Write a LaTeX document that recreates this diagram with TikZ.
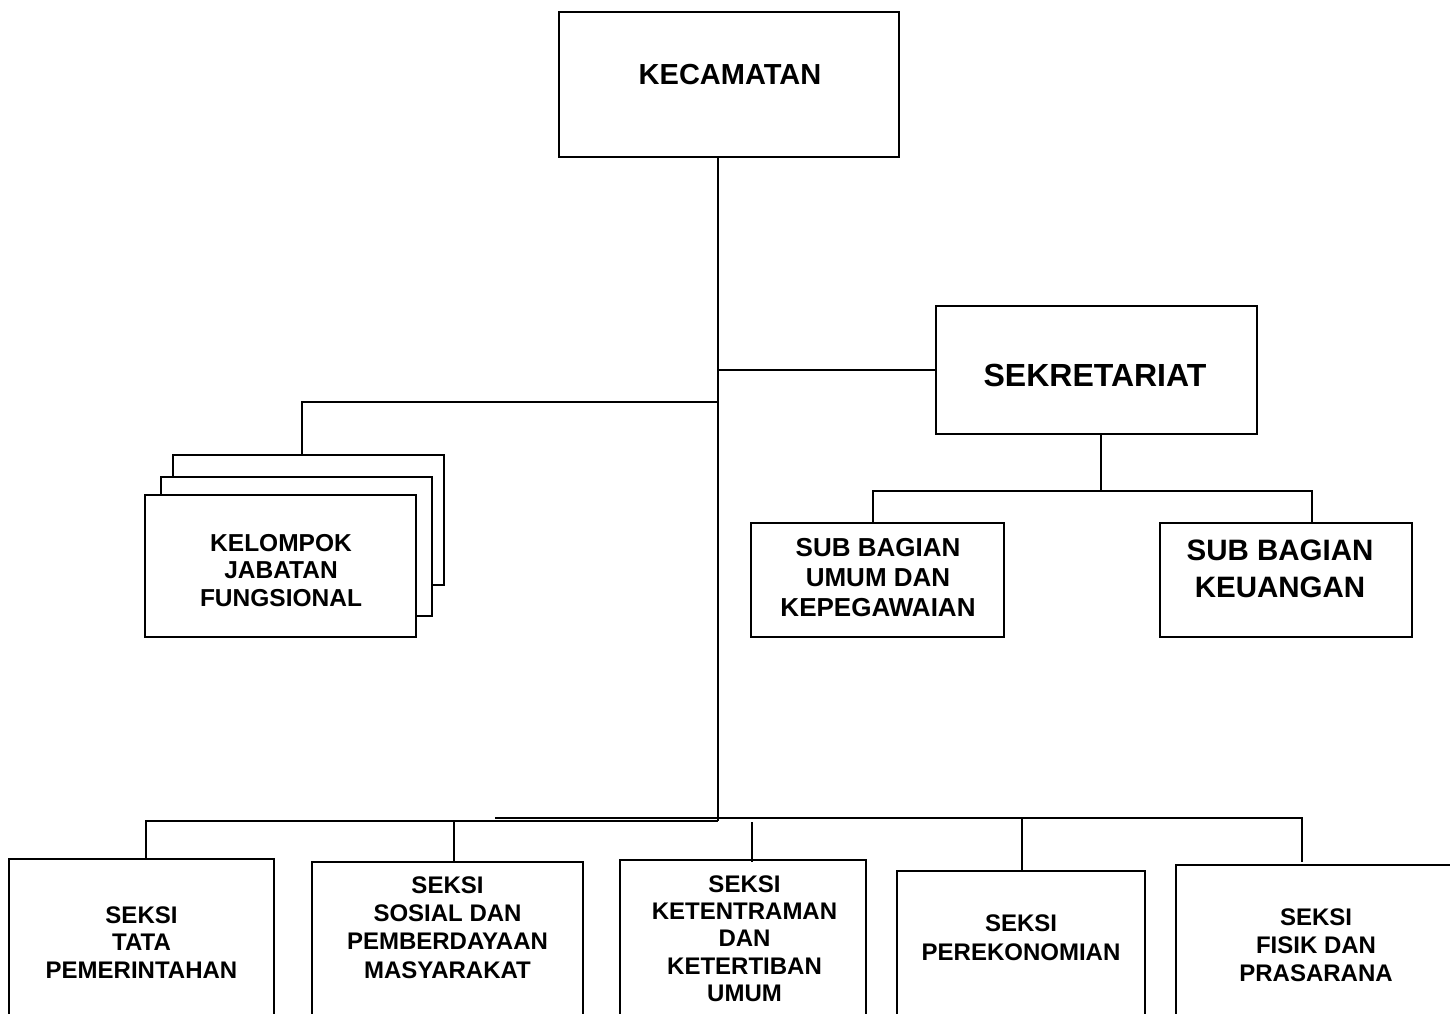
\documentclass[tikz,border=0pt]{standalone}
\usepackage{fontspec}
\setmainfont{Liberation Sans}
\begin{document}
\begin{tikzpicture}[x=1pt,y=-1pt,line width=1.5pt,
	    box/.style={draw,fill=white,rectangle,inner sep=0pt},
	    txt/.style={align=center,inner sep=0pt,font=\bfseries}]
	    \useasboundingbox(0,0)rectangle(1450,1013);
	    \clip(0,0)rectangle(1450,1013);
	    \node[box,minimum width=340,minimum height=145](kec)at(729,84.5){};
	    \node[txt,font=\bfseries\fontsize{29}{33}\selectfont](tkec)at(730,75){KECAMATAN};
	    \node[box,minimum width=321,minimum height=128](sek)at(1096.5,370){};
	    \node[txt,font=\bfseries\fontsize{32}{36}\selectfont](tsek)at(1095,375){SEKRETARIAT};
	    \node[box,minimum width=271,minimum height=130](kf3)at(308.5,520){};
	    \node[box,minimum width=271,minimum height=139](kf2)at(296.5,546.5){};
	    \node[box,minimum width=271,minimum height=142](kf1)at(280.5,566){};
	    \node[txt,font=\bfseries\fontsize{24.5}{27.5}\selectfont](tkf)at(281,570.5){KELOMPOK\\JABATAN\\FUNGSIONAL};
	    \node[box,minimum width=253,minimum height=114](umum)at(877.5,580){};
	    \node[txt,font=\bfseries\fontsize{26}{30}\selectfont](tumum)at(878,578){SUB BAGIAN\\UMUM DAN\\KEPEGAWAIAN};
	    \node[box,minimum width=252,minimum height=114](keu)at(1286,580){};
	    \node[txt,font=\bfseries\fontsize{29.5}{37}\selectfont](tkeu)at(1280,568.5){SUB BAGIAN\\KEUANGAN};
	    \node[box,minimum width=265,minimum height=181](s1)at(141.5,949.5){};
	    \node[txt,font=\bfseries\fontsize{24}{27.5}\selectfont](ts1)at(141.5,942.5){SEKSI\\TATA\\PEMERINTAHAN};
	    \node[box,minimum width=271,minimum height=178](s2)at(447.5,951){};
	    \node[txt,font=\bfseries\fontsize{24}{28.3}\selectfont](ts2)at(447.5,927.5){SEKSI\\SOSIAL DAN\\PEMBERDAYAAN\\MASYARAKAT};
	    \node[box,minimum width=246,minimum height=180](s3)at(743,950){};
	    \node[txt,font=\bfseries\fontsize{24}{27.3}\selectfont](ts3)at(744.5,938.5){SEKSI\\KETENTRAMAN\\DAN\\KETERTIBAN\\UMUM};
	    \node[box,minimum width=248,minimum height=169](s4)at(1021,955.5){};
	    \node[txt,font=\bfseries\fontsize{24}{29}\selectfont](ts4)at(1021,937.5){SEKSI\\PEREKONOMIAN};
	    \node[box,minimum width=294,minimum height=175](s5)at(1323,952.5){};
	    \node[txt,font=\bfseries\fontsize{24}{28}\selectfont](ts5)at(1316,945){SEKSI\\FISIK DAN\\PRASARANA};
	    \coordinate(trunk)at(718,821);
	    \coordinate(kj)at(302,402);
	    \coordinate(sb)at(1101,491);
	    \coordinate(su)at(873,491);
	    \coordinate(sk)at(1312,491);
	    \coordinate(busL)at(146,821);
	    \coordinate(busM)at(495,818);
	    \coordinate(busR)at(1302,818);
	    \coordinate(d2)at(454,821);
	    \coordinate(d3)at(752,822);
	    \coordinate(d4)at(1022,818);
	    \draw(kec.south-|trunk)--(trunk);
	    \draw(sek.west)--(sek.west-|trunk);
	    \draw(kj-|trunk)--(kj)--(kj|-kf3.north);
	    \draw(sb|-sek.south)--(sb);
	    \draw(su|-umum.north)--(su)--(sk)--(sk|-keu.north);
	    \draw(busL|-s1.north)--(busL)--(trunk);
	    \draw(busM)--(busR)--++(0,44);
	    \draw(d2)--(d2|-s2.north);
	    \draw(d3)--++(0,40);
	    \draw(d4)--(d4|-s4.north);
	\end{tikzpicture}
\end{document}
